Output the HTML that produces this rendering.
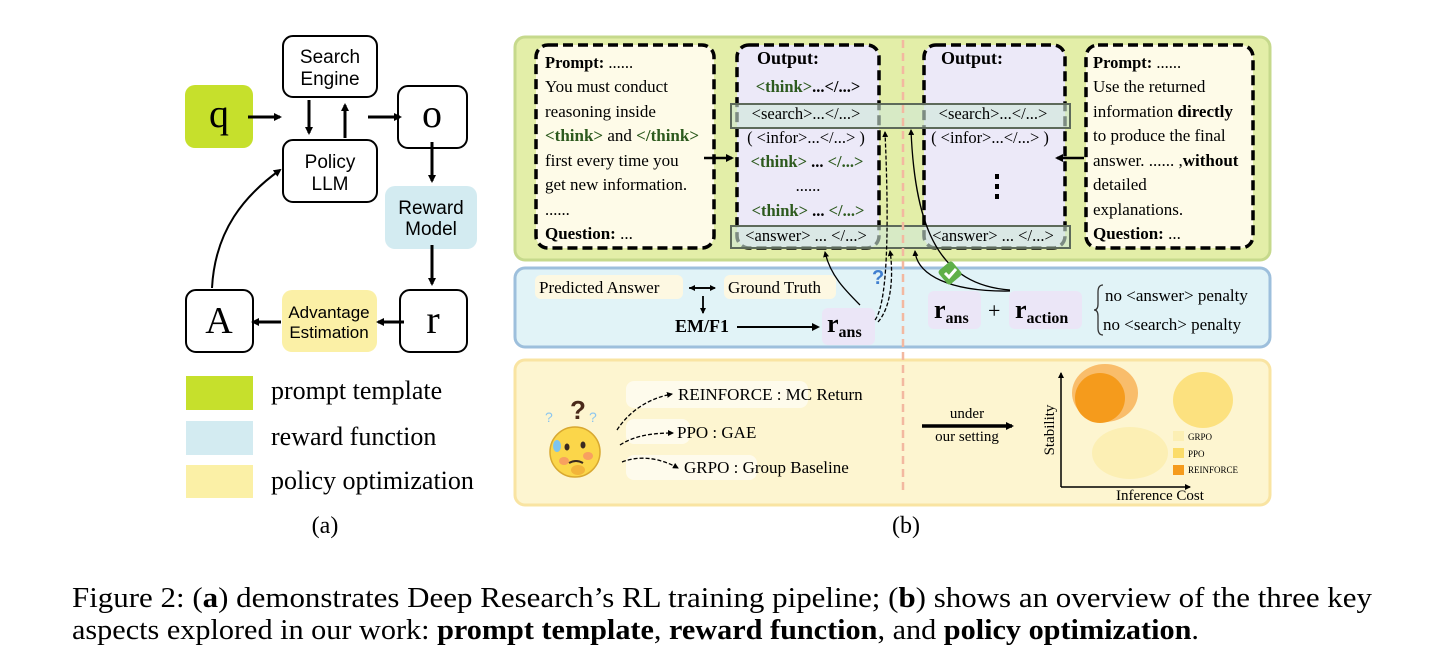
<!DOCTYPE html>
<html><head><meta charset="utf-8"><style>
html,body{margin:0;padding:0;background:#fff;}
svg{display:block;}
text{font-family:"Liberation Serif",serif;}
.s{font-family:"Liberation Sans","DejaVu Sans",sans-serif;}
</style></head><body>
<svg width="1456" height="664" viewBox="0 0 1456 664" xmlns="http://www.w3.org/2000/svg">
<defs>
<marker id="ah" markerWidth="8" markerHeight="8" refX="6" refY="4" orient="auto" markerUnits="userSpaceOnUse"><path d="M0,0 L8,4 L0,8 Z" fill="#000"/></marker>
<marker id="as" markerWidth="6" markerHeight="6" refX="5" refY="3" orient="auto" markerUnits="userSpaceOnUse"><path d="M0,0 L6,3 L0,6 Z" fill="#000"/></marker>
</defs>
<!-- Panel a -->
<g stroke="#000" stroke-width="2" fill="#fff">
<rect x="283" y="36" width="94" height="61" rx="10"/>
<rect x="283" y="140" width="94" height="62" rx="10"/>
<rect x="398" y="86" width="69" height="62" rx="10"/>
<rect x="400" y="290" width="67" height="62" rx="10"/>
<rect x="186" y="290" width="67" height="62" rx="10"/>
</g>
<rect x="185" y="85" width="68" height="63" rx="10" fill="#c6e02c"/>
<rect x="385" y="186" width="92" height="63" rx="10" fill="#d3ebf1"/>
<rect x="282" y="290" width="95" height="62" rx="10" fill="#fbf0a6"/>
<g class="s" font-size="19" text-anchor="middle" fill="#000">
<text x="330" y="63" class="s">Search</text><text x="330" y="85" class="s">Engine</text>
<text x="330" y="168" class="s">Policy</text><text x="330" y="190" class="s">LLM</text>
<text x="431" y="214" class="s">Reward</text><text x="431" y="235" class="s">Model</text>
<text x="329" y="318" class="s" font-size="17">Advantage</text><text x="329" y="338" class="s" font-size="17">Estimation</text>
</g>
<text x="219" y="127" font-size="40" text-anchor="middle">q</text>
<text x="432" y="127" font-size="40" text-anchor="middle">o</text>
<text x="433" y="333" font-size="40" text-anchor="middle">r</text>
<text x="219" y="333" font-size="38" text-anchor="middle">A</text>
<g stroke="#000" stroke-width="3" fill="none" marker-end="url(#ah)">
<line x1="248" y1="117" x2="280" y2="117"/>
<line x1="309" y1="100" x2="309" y2="133"/>
<line x1="345" y1="138" x2="345" y2="105"/>
<line x1="368" y1="117" x2="400" y2="117"/>
<line x1="432" y1="142" x2="432" y2="181"/>
<line x1="432" y1="245" x2="432" y2="284"/>
<line x1="404" y1="322" x2="378" y2="322"/>
<line x1="281" y1="322" x2="253" y2="322"/>
</g>
<path d="M212,288 C215,230 245,195 280,170" stroke="#000" stroke-width="2" fill="none" marker-end="url(#ah)"/>
<rect x="186" y="376" width="67" height="34" fill="#c6e02c"/>
<rect x="186" y="421" width="67" height="34" fill="#d3ebf1"/>
<rect x="186" y="465" width="67" height="33" fill="#fbf0a6"/>
<g font-size="26"><text x="271" y="399">prompt template</text><text x="271" y="445">reward function</text><text x="271" y="489">policy optimization</text></g>
<text x="325" y="533" font-size="24" text-anchor="middle">(a)</text>
<text x="906" y="533" font-size="24" text-anchor="middle">(b)</text>

<!-- Panel b backgrounds -->
<rect x="515" y="37" width="755" height="223" rx="10" fill="#e3eea8" stroke="#c6d98c" stroke-width="3"/>
<rect x="515" y="268" width="755" height="79" rx="10" fill="#e1f3f7" stroke="#9dbfdc" stroke-width="3"/>
<rect x="515" y="360" width="755" height="145" rx="10" fill="#fdf5d0" stroke="#f9e4a2" stroke-width="3"/>

<!-- boxes -->
<g stroke="#000" stroke-width="3.5" stroke-dasharray="10,5">
<rect x="536" y="45" width="178" height="203" rx="12" fill="#fefbe8"/>
<rect x="737" y="45" width="142" height="203" rx="12" fill="#ece9f8"/>
<rect x="924" y="45" width="141" height="203" rx="12" fill="#ece9f8"/>
<rect x="1086" y="45" width="167" height="203" rx="12" fill="#fefbe8"/>
</g>
<rect x="731" y="104" width="339" height="24" fill="#cfe8d8" fill-opacity="0.6" stroke="#5d6a5a" stroke-width="2"/>
<rect x="731" y="226" width="339" height="22" fill="#cfe8d8" fill-opacity="0.6" stroke="#5d6a5a" stroke-width="2"/>
<line x1="903" y1="40" x2="903" y2="490" stroke="#f3b8a0" stroke-width="2.5" stroke-dasharray="8,5"/>

<g font-size="16.5">
<text x="545" y="68"><tspan font-weight="bold">Prompt:</tspan> ......</text>
<text x="545" y="92" font-size="17">You must conduct</text>
<text x="545" y="117" font-size="17">reasoning inside</text>
<text x="545" y="141" font-size="17"><tspan font-weight="bold" fill="#2d5a1e">&lt;think&gt;</tspan> and <tspan font-weight="bold" fill="#2d5a1e">&lt;/think&gt;</tspan></text>
<text x="545" y="166" font-size="17">first every time you</text>
<text x="545" y="190" font-size="17">get new information.</text>
<text x="545" y="215">......</text>
<text x="545" y="239" font-size="17"><tspan font-weight="bold">Question:</tspan> ...</text>

<text x="757" y="64" font-weight="bold" font-size="18">Output:</text>
<text x="808" y="92" text-anchor="middle" font-weight="bold"><tspan fill="#2d5a1e">&lt;think&gt;</tspan>...&lt;/...&gt;</text>
<text x="806" y="119" text-anchor="middle">&lt;search&gt;...&lt;/...&gt;</text>
<text x="806" y="143" text-anchor="middle">( &lt;infor&gt;...&lt;/...&gt; )</text>
<text x="807" y="167" text-anchor="middle" font-weight="bold"><tspan fill="#2d5a1e">&lt;think&gt;</tspan> ... <tspan fill="#2d5a1e">&lt;/...&gt;</tspan></text>
<text x="808" y="191" text-anchor="middle">......</text>
<text x="808" y="216" text-anchor="middle" font-weight="bold"><tspan fill="#2d5a1e">&lt;think&gt;</tspan> ... <tspan fill="#2d5a1e">&lt;/...&gt;</tspan></text>
<text x="806" y="241" text-anchor="middle">&lt;answer&gt; ... &lt;/...&gt;</text>

<text x="941" y="64" font-weight="bold" font-size="18">Output:</text>
<text x="993" y="119" text-anchor="middle">&lt;search&gt;...&lt;/...&gt;</text>
<text x="990" y="143" text-anchor="middle">( &lt;infor&gt;...&lt;/...&gt; )</text>
<text x="993" y="241" text-anchor="middle">&lt;answer&gt; ... &lt;/...&gt;</text>

<text x="1093" y="68"><tspan font-weight="bold">Prompt:</tspan> ......</text>
<text x="1093" y="92" font-size="17">Use the returned</text>
<text x="1093" y="117" font-size="17">information <tspan font-weight="bold">directly</tspan></text>
<text x="1093" y="141" font-size="17">to produce the final</text>
<text x="1093" y="166" font-size="17">answer. ...... ,<tspan font-weight="bold">without</tspan></text>
<text x="1093" y="190" font-size="17">detailed</text>
<text x="1093" y="215" font-size="17">explanations.</text>
<text x="1093" y="239" font-size="17"><tspan font-weight="bold">Question:</tspan> ...</text>
</g>
<g fill="#000"><rect x="995" y="174" width="4" height="5"/><rect x="995" y="184" width="4" height="5"/><rect x="995" y="194" width="4" height="5"/></g>
<g stroke="#000" stroke-width="2.5" marker-end="url(#ah)">
<line x1="704" y1="158" x2="732" y2="158"/>
<line x1="1084" y1="158" x2="1057" y2="158"/>
</g>

<!-- reward row -->
<rect x="535" y="275" width="148" height="24" rx="6" fill="#fdf8e2"/>
<rect x="724" y="275" width="112" height="24" rx="6" fill="#fdf8e2"/>
<rect x="822" y="308" width="53" height="37" rx="6" fill="#ebe6f7"/>
<rect x="928" y="291" width="53" height="38" rx="6" fill="#ebe6f7"/>
<rect x="1009" y="291" width="73" height="38" rx="6" fill="#ebe6f7"/>
<g font-size="17">
<text x="539" y="293">Predicted Answer</text>
<text x="728" y="293">Ground Truth</text>
<text x="1105" y="301">no &lt;answer&gt; penalty</text>
<text x="1103" y="330">no &lt;search&gt; penalty</text>
</g>
<path d="M1103,285 Q1098,285 1098,292 L1098,304 Q1098,310 1094,310 Q1098,310 1098,316 L1098,328 Q1098,335 1103,335" stroke="#333" stroke-width="1.3" fill="none"/>
<text x="675" y="332" font-size="18" font-weight="bold">EM/F1</text>
<text x="827" y="332" font-size="26" font-weight="bold">r<tspan font-size="16" dy="5">ans</tspan></text>
<text x="934" y="318" font-size="26" font-weight="bold">r<tspan font-size="16" dy="5">ans</tspan></text>
<text x="988" y="318" font-size="22">+</text>
<text x="1015" y="318" font-size="26" font-weight="bold">r<tspan font-size="16" dy="5">action</tspan></text>
<g stroke="#000" stroke-width="1.8" fill="none">
<line x1="689" y1="288" x2="715" y2="288" marker-end="url(#as)"/>
<line x1="712" y1="288" x2="690" y2="288" marker-end="url(#as)"/>
<line x1="703" y1="296" x2="703" y2="313" marker-end="url(#as)"/>
<line x1="737" y1="327" x2="818" y2="327" marker-end="url(#ah)" stroke-width="2"/>
<path d="M860,305 C845,290 830,275 825,252" marker-end="url(#as)" stroke-width="1.3"/>
<path d="M875,320 C890,300 888,200 885,132" stroke-dasharray="4,2" marker-end="url(#as)" stroke-width="1.3"/>
<path d="M878,322 C893,305 893,270 890,251" stroke-dasharray="4,2" marker-end="url(#as)" stroke-width="1.3"/>
<path d="M1010,290 C940,285 915,230 911,130" marker-end="url(#as)" stroke-width="1.3"/>
<path d="M1010,291 C950,292 917,275 915,251" marker-end="url(#as)" stroke-width="1.3"/>
</g>
<text x="872" y="284" font-size="20" font-weight="bold" fill="#3f7fd0" class="s">?</text>
<g transform="translate(950,273) rotate(-40)"><rect x="-9" y="-9" width="18" height="18" rx="3" fill="#5fb048"/><path d="M-5,0 L-1,4 L6,-4" stroke="#fff" stroke-width="3" fill="none" transform="rotate(40)"/></g>

<!-- policy optimization row -->
<circle cx="575" cy="452" r="25" fill="#fbd64a" stroke="#d8a830" stroke-width="1.5"/>
<ellipse cx="564" cy="461" rx="5" ry="4" fill="#f8a060"/>
<ellipse cx="588" cy="456" rx="5" ry="4" fill="#f8a060"/>
<ellipse cx="567" cy="447" rx="2.5" ry="3.5" fill="#3a2a20"/>
<ellipse cx="583" cy="445" rx="2.5" ry="3.5" fill="#3a2a20"/>
<path d="M569,463 Q576,459 583,463" stroke="#3a2a20" stroke-width="2" fill="none"/>
<ellipse cx="557" cy="446" rx="4" ry="6" fill="#7ec4ee"/>
<ellipse cx="578" cy="470" rx="7" ry="5" fill="#f2b43a"/>
<text x="570" y="419" font-size="26" font-weight="bold" fill="#4a2a1a" class="s">?</text>
<text x="545" y="422" font-size="14" fill="#8cc6ee" class="s">?</text>
<text x="589" y="422" font-size="14" fill="#8cc6ee" class="s">?</text>
<rect x="626" y="381" width="182" height="27" rx="8" fill="#fefbec"/>
<rect x="626" y="419" width="64" height="25" rx="8" fill="#fefbec"/>
<rect x="626" y="455" width="131" height="25" rx="8" fill="#fefbec"/>
<g font-size="17">
<text x="678" y="400">REINFORCE : MC Return</text>
<text x="677" y="438">PPO : GAE</text>
<text x="684" y="473">GRPO : Group Baseline</text>
</g>
<g stroke="#000" stroke-width="1.3" fill="none" stroke-dasharray="4,2">
<path d="M617,430 C630,410 650,398 672,394" marker-end="url(#as)"/>
<path d="M620,445 C635,435 655,433 673,433" marker-end="url(#as)"/>
<path d="M622,462 C640,455 660,458 678,468" marker-end="url(#as)"/>
</g>
<text x="967" y="418" font-size="15" text-anchor="middle">under</text>
<text x="967" y="441" font-size="15" text-anchor="middle">our setting</text>
<line x1="922" y1="426" x2="1012" y2="426" stroke="#000" stroke-width="3.5" marker-end="url(#ah)"/>
<line x1="1061" y1="487" x2="1061" y2="373" stroke="#000" stroke-width="1.5" marker-end="url(#as)"/>
<line x1="1061" y1="487" x2="1190" y2="487" stroke="#000" stroke-width="1.5" marker-end="url(#as)"/>
<text x="1160" y="500" font-size="15" text-anchor="middle">Inference Cost</text>
<text transform="translate(1054,430) rotate(-90)" font-size="15" text-anchor="middle">Stability</text>
<g>
<ellipse cx="1105" cy="393" rx="33" ry="29" fill="#f6a540" opacity="0.7"/>
<ellipse cx="1100" cy="398" rx="25" ry="25" fill="#f59b1c"/>
<ellipse cx="1203" cy="400" rx="30" ry="28" fill="#fbdc6a" opacity="0.8"/>
<ellipse cx="1130" cy="453" rx="38" ry="26" fill="#fcefb4"/>
</g>
<rect x="1173" y="431" width="11" height="10" fill="#fcefb4"/>
<rect x="1173" y="448" width="11" height="10" fill="#fbdc6a"/>
<rect x="1173" y="465" width="11" height="10" fill="#f59b1c"/>
<g font-size="9"><text x="1188" y="440">GRPO</text><text x="1188" y="457">PPO</text><text x="1188" y="473">REINFORCE</text></g>

<!-- caption -->
<g font-size="28.5">
<text x="72" y="607" textLength="1300" lengthAdjust="spacingAndGlyphs">Figure 2: (<tspan font-weight="bold">a</tspan>) demonstrates Deep Research’s RL training pipeline; (<tspan font-weight="bold">b</tspan>) shows an overview of the three key</text>
<text x="72" y="639" textLength="1127" lengthAdjust="spacingAndGlyphs">aspects explored in our work: <tspan font-weight="bold">prompt template</tspan>, <tspan font-weight="bold">reward function</tspan>, and <tspan font-weight="bold">policy optimization</tspan>.</text>
</g>
</svg>
</body></html>
